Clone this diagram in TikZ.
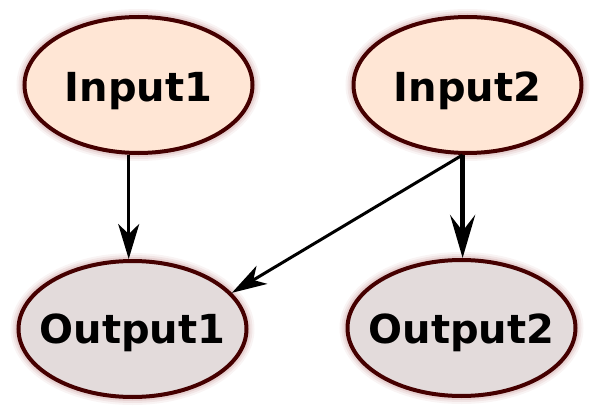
\documentclass[tikz,border=0pt]{standalone}
\usepackage{fontspec}
\setmainfont{DejaVu Sans}
\usetikzlibrary{arrows.meta,shapes.geometric}
\definecolor{edgecol}{HTML}{450000}
\definecolor{infill}{HTML}{FFE6D5}
\definecolor{outfill}{HTML}{E3DBDB}
\definecolor{glow}{HTML}{8A2020}
\tikzset{
  blob/.style={ellipse, draw=edgecol, line width=4pt, inner sep=0pt,
    minimum width=228pt, minimum height=136pt,
    preaction={draw=glow, draw opacity=0.05, line width=16pt},
    preaction={draw=glow, draw opacity=0.07, line width=12pt},
    preaction={draw=glow, draw opacity=0.10, line width=8pt}},
  inblob/.style={blob, fill=infill},
  outblob/.style={blob, fill=outfill},
  lbl/.style={anchor=base, inner sep=0pt, font=\bfseries\fontsize{40}{44}\selectfont},
  thinarr/.style={line width=3pt, -{Stealth[length=35pt, width=21pt, inset=10pt]}},
  thickarr/.style={line width=5pt, -{Stealth[length=43pt, width=25pt, inset=16pt]}}
}
\begin{document}
\begin{tikzpicture}[x=1pt,y=1pt]
\useasboundingbox (0,0) rectangle (600,416);
\node[inblob] (i1) at (138.5,331) {};
\node[inblob] (i2) at (467.5,331) {};
\node[outblob] (o1) at (132.5,87) {};
\node[outblob] (o2) at (461.5,88) {};
\node[lbl] (t1) at ([yshift=-16pt]i1.center) {Input1};
\node[lbl] (t2) at ([yshift=-16pt]i2.center) {Input2};
\node[lbl] (t3) at ([yshift=-14pt]o1.center) {Output1};
\node[lbl] (t4) at ([yshift=-15pt]o2.center) {Output2};
\draw[thinarr] (i1.262) -- (i1.262 |- o1.north);
\draw[thickarr] (i2.266) -- (i2.266 |- o2.north);
\draw[thinarr] (i2.266) -- (o1.20);
\end{tikzpicture}
\end{document}
